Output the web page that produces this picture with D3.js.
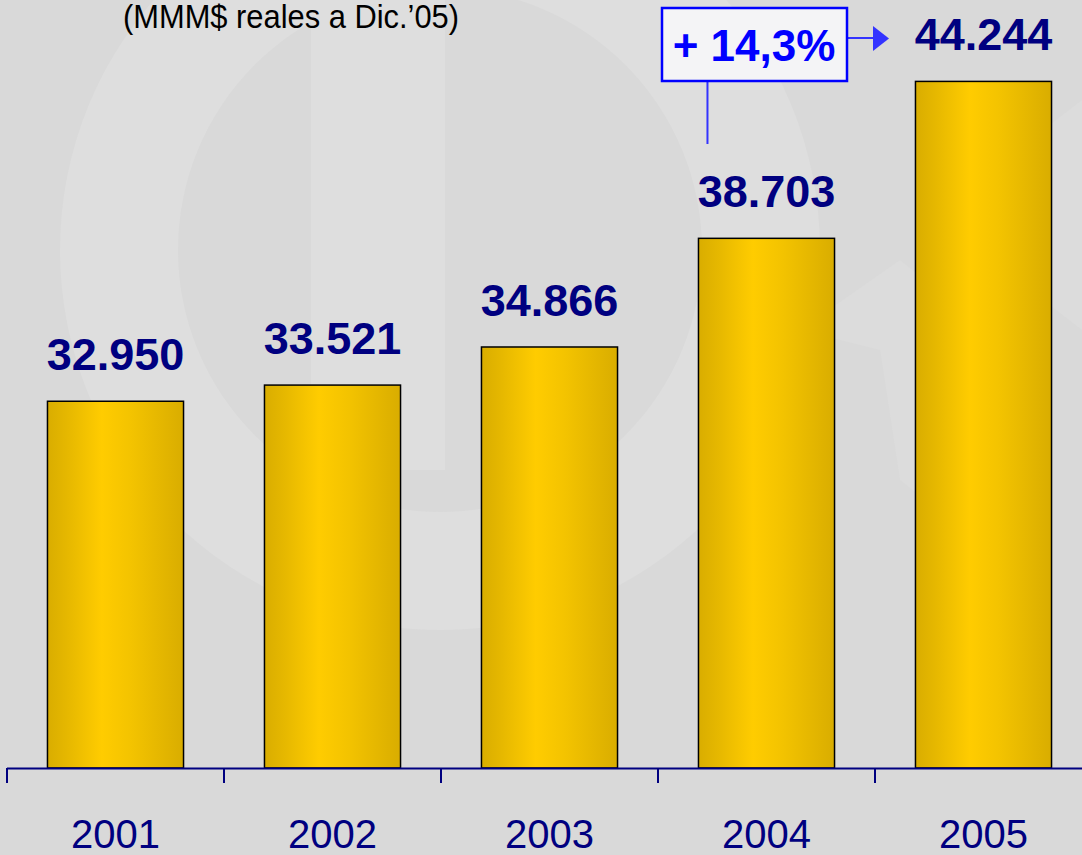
<!DOCTYPE html>
<html>
<head>
<meta charset="utf-8">
<script src="https://cdn.jsdelivr.net/npm/d3@7"></script>
<style>
  html, body { margin: 0; padding: 0; background: #d9d9d9; }
  svg { display: block; font-family: "Liberation Sans", Arial, sans-serif; }
</style>
</head>
<body>
<svg id="chart" width="1082" height="855"></svg>
<script>
// datos (MMM$ reales a Dic.'05)
var years = ["2001", "2002", "2003", "2004", "2005"];
var values = [32950, 33521, 34866, 38703, 44244];
var titleText = "(MMM$ reales a Dic.\u201905)";
var growthText = "+ 14,3%";

var width = 1082, height = 855;
var baseY = 768;

var svg = d3.select("#chart");

// fondo + marca de agua (logo tenue)
svg.append("rect").attr("width", width).attr("height", height).attr("fill", "#d9d9d9");
var wm = svg.append("g").attr("fill", "#dedede");
wm.append("path")
    .attr("d", d3.arc().innerRadius(262).outerRadius(380).startAngle(0).endAngle(2 * Math.PI)())
    .attr("transform", "translate(440,250)");
wm.append("rect").attr("x", 311).attr("y", 0).attr("width", 134).attr("height", 470);
wm.append("path").attr("d", "M800,330 L900,260 L1000,340 L1000,560 L900,480 L880,350 Z").attr("fill", "#dcdcdc");
wm.append("path").attr("d", "M1030,140 L1082,100 L1082,330 L1030,290 Z").attr("fill", "#dcdcdc");

// degradado de las barras
var defs = svg.append("defs");
var grad = defs.append("linearGradient").attr("id", "gold").attr("x1", "0%").attr("x2", "100%");
grad.append("stop").attr("offset", "0%").attr("stop-color", "#d9ad00");
grad.append("stop").attr("offset", "15%").attr("stop-color", "#e6b800");
grad.append("stop").attr("offset", "40%").attr("stop-color", "#ffcc00");
grad.append("stop").attr("offset", "62%").attr("stop-color", "#f3c300");
grad.append("stop").attr("offset", "100%").attr("stop-color", "#d9ad00");

var x = d3.scaleBand().domain(years).range([7, 1092]).paddingInner(0.373).paddingOuter(0.1865);
var y = d3.scaleLinear().domain([20000, 45000]).range([baseY, 60]);

var fmt = d3.formatLocale({decimal: ",", thousands: ".", grouping: [3], currency: ["$", ""]}).format(",d");

// barras
svg.append("g").selectAll("rect")
    .data(values)
    .enter().append("rect")
    .attr("x", function (d, i) { return x(years[i]); })
    .attr("y", function (d) { return y(d); })
    .attr("width", x.bandwidth())
    .attr("height", function (d) { return baseY - y(d); })
    .attr("fill", "url(#gold)")
    .attr("stroke", "#000")
    .attr("stroke-width", 1.5);

// etiquetas de valor
svg.append("g").selectAll("text")
    .data(values)
    .enter().append("text")
    .attr("x", function (d, i) { return x(years[i]) + x.bandwidth() / 2; })
    .attr("y", function (d) { return y(d) - 31; })
    .attr("text-anchor", "middle")
    .attr("font-size", 45)
    .attr("font-weight", "bold")
    .attr("fill", "#000080")
    .text(function (d) { return fmt(d); });

// eje X
var axis = svg.append("g").attr("stroke", "#000080").attr("stroke-width", 2);
axis.append("line").attr("x1", 7).attr("x2", width).attr("y1", baseY + 0.5).attr("y2", baseY + 0.5);
axis.selectAll("line.tick")
    .data(years)
    .enter().append("line")
    .attr("class", "tick")
    .attr("x1", function (d) { return x(d) - x.step() * x.paddingInner() / 2; })
    .attr("x2", function (d) { return x(d) - x.step() * x.paddingInner() / 2; })
    .attr("y1", baseY)
    .attr("y2", baseY + 15);

svg.append("g").selectAll("text")
    .data(years)
    .enter().append("text")
    .attr("x", function (d) { return x(d) + x.bandwidth() / 2; })
    .attr("y", 848)
    .attr("text-anchor", "middle")
    .attr("font-size", 40)
    .attr("fill", "#000080")
    .text(function (d) { return d; });

// titulo (cortado arriba)
svg.append("text")
    .attr("x", 123).attr("y", 28)
    .attr("font-size", 33)
    .attr("fill", "#000")
    .attr("textLength", 336)
    .attr("lengthAdjust", "spacingAndGlyphs")
    .text(titleText);

// anotacion crecimiento 2004 -> 2005
var ann = svg.append("g");
var lx = x("2004") + 9;
ann.append("line").attr("x1", lx).attr("x2", lx).attr("y1", 81).attr("y2", 144)
    .attr("stroke", "#3333ff").attr("stroke-width", 2);
ann.append("line").attr("x1", 847).attr("x2", 875).attr("y1", 38).attr("y2", 38)
    .attr("stroke", "#3333ff").attr("stroke-width", 2);
ann.append("path").attr("d", "M873,26 L889,38.5 L873,51 Z").attr("fill", "#3333ff");
ann.append("rect").attr("x", 662).attr("y", 8).attr("width", 185).attr("height", 73)
    .attr("fill", "#f4f4f6").attr("stroke", "#0000ff").attr("stroke-width", 2.5);
ann.append("text")
    .attr("x", 754).attr("y", 61)
    .attr("text-anchor", "middle")
    .attr("font-size", 44)
    .attr("font-weight", "bold")
    .attr("fill", "#0000ff")
    .text(growthText);
</script>
</body>
</html>
